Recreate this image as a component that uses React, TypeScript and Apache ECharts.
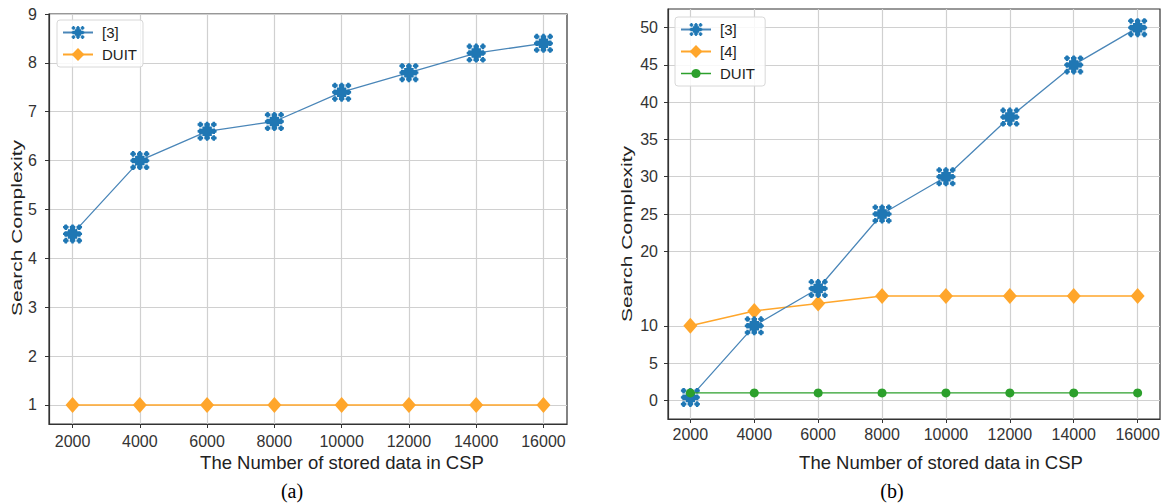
import React, { useEffect, useRef } from "react";
import * as echarts from "echarts";

const xValues = [2000, 4000, 6000, 8000, 10000, 12000, 14000, 16000];
const leftRef3 = [4.5, 6.0, 6.6, 6.8, 7.4, 7.8, 8.2, 8.4];
const leftDUIT = [1, 1, 1, 1, 1, 1, 1, 1];
const rightRef3 = [0.4, 10, 15, 25, 30, 38, 45, 50];
const rightRef4 = [10, 12, 13, 14, 14, 14, 14, 14];
const rightDUIT = [1, 1, 1, 1, 1, 1, 1, 1];
const leftYTicks = [1, 2, 3, 4, 5, 6, 7, 8, 9];
const rightYTicks = [0, 5, 10, 20, 25, 30, 35, 40, 45, 50];
const xTicks = [2000, 4000, 6000, 8000, 10000, 12000, 14000, 16000];

const BLUE = "#1f77b4";
const ORANGE = "#ffa62b";
const GREEN = "#2ca02c";
const FONT = "Liberation Sans";
const X_TITLE = "The Number of stored data in CSP";
const Y_TITLE = "Search Complexity";

function plus(cx: number, cy: number, a: number, t: number) {
  const p = [
    [cx - t, cy - a], [cx + t, cy - a], [cx + t, cy - t], [cx + a, cy - t],
    [cx + a, cy + t], [cx + t, cy + t], [cx + t, cy + a], [cx - t, cy + a],
    [cx - t, cy + t], [cx - a, cy + t], [cx - a, cy - t], [cx - t, cy - t],
  ];
  return "M" + p.map((q) => q[0] + " " + q[1]).join(" L") + " Z ";
}
function sq(cx: number, cy: number, h: number) {
  return `M${cx - h} ${cy - h} L${cx + h} ${cy - h} L${cx + h} ${cy + h} L${cx - h} ${cy + h} Z `;
}
function starSymbol() {
  let d = "";
  const pos = [3.5, 12, 20.5];
  for (const x of pos) for (const y of pos) {
    if (x === 12 && y === 12) continue;
    d += plus(x, y, 3.5, 1.5);
    d += sq(x, y, 2.3);
  }
  d += sq(12, 12, 6);
  d += plus(12, 12, 8.5, 3.2);
  return "path://" + d;
}
const STAR = starSymbol();

function circleLegendIcon() {
  let d = "M0 4.3 L30 4.3 L30 5.7 L0 5.7 Z M";
  const n = 20;
  const pts: string[] = [];
  for (let i = 0; i < n; i++) {
    const a = (i / n) * Math.PI * 2;
    pts.push((15 + 4.6 * Math.cos(a)).toFixed(2) + " " + (5 + 4.6 * Math.sin(a)).toFixed(2));
  }
  d += pts.join(" L") + " Z";
  return "path://" + d;
}

function pairs(ys: number[]) {
  return xValues.map((x, i) => [x, ys[i]]);
}

export default function App() {
  const ref = useRef<HTMLDivElement>(null);
  useEffect(() => {
    if (!ref.current) return;
    const chart = echarts.init(ref.current, undefined, { renderer: "svg" });
    const axisCommon = {
      axisLine: { show: true, onZero: false, lineStyle: { color: "#333", width: 1.2 } },
      axisTick: { show: true, length: 4, lineStyle: { color: "#333" } },
      splitLine: { show: true, lineStyle: { color: "#d0d0d0", width: 1.2 } },
    };
    const labelStyle = { fontFamily: FONT, fontSize: 16, color: "#333" };
    const xAxis = (gi: number, margin: number) => ({
      ...axisCommon,
      type: "value",
      gridIndex: gi,
      min: 1300,
      max: 16700,
      axisTick: { ...axisCommon.axisTick, customValues: xTicks },
      axisLabel: { customValues: xTicks, margin, ...labelStyle, formatter: (v: number) => String(v) },
    });
    const yAxis = (gi: number, min: number, max: number, ticks: number[], margin: number) => ({
      ...axisCommon,
      type: "value",
      gridIndex: gi,
      min,
      max,
      axisTick: { ...axisCommon.axisTick, customValues: ticks },
      axisLabel: { customValues: ticks, margin, ...labelStyle, formatter: (v: number) => String(v) },
    });
    const blueSeries = (xi: number, data: number[]) => ({
      type: "line",
      name: "[3]",
      xAxisIndex: xi,
      yAxisIndex: xi,
      data: pairs(data),
      symbol: STAR,
      symbolSize: 19,
      lineStyle: { color: "#4a86b8", width: 1.3 },
      itemStyle: { color: BLUE },
      z: 3,
    });
    const orangeSeries = (xi: number, name: string, data: number[]) => ({
      type: "line",
      name,
      xAxisIndex: xi,
      yAxisIndex: xi,
      data: pairs(data),
      symbol: "diamond",
      symbolSize: [14, 16],
      lineStyle: { color: ORANGE, width: 1.5 },
      itemStyle: { color: ORANGE },
      z: 2,
    });
    const legendCommon = {
      orient: "vertical",
      backgroundColor: "rgba(255,255,255,0.85)",
      borderColor: "#d8d8d8",
      borderWidth: 1,
      borderRadius: 3,
      padding: [5, 6, 5, 5],
      itemGap: 7,
      itemWidth: 30,
      itemHeight: 16,
      textStyle: { fontFamily: FONT, fontSize: 15, color: "#222", padding: [0, 0, 0, 4] },
    };
    const yTitle = (x: number, y: number) => ({
      type: "text",
      x,
      y,
      rotation: Math.PI / 2,
      scaleX: 1.4,
      style: { text: Y_TITLE, font: `15px '${FONT}'`, fill: "#222", align: "center", verticalAlign: "middle" },
    });
    const xTitle = (x: number, y: number) => ({
      type: "text",
      x,
      y,
      style: { text: X_TITLE, font: `18.5px '${FONT}'`, fill: "#222", align: "center", verticalAlign: "middle" },
    });
    chart.setOption({
      animation: false,
      grid: [
        { left: 49, right: 599, top: 14, bottom: 80, show: true, borderColor: "#333", borderWidth: 1.2, containLabel: false },
        { left: 668, right: 6, top: 9, bottom: 85, show: true, borderColor: "#333", borderWidth: 1.2, containLabel: false },
      ],
      xAxis: [xAxis(0, 9), xAxis(1, 7)],
      yAxis: [
        yAxis(0, 0.61, 9, leftYTicks, 12),
        yAxis(1, -2.5, 52.5, rightYTicks, 10),
      ],
      legend: [
        { ...legendCommon, left: 57, top: 20, data: ["[3]", "DUIT"] },
        { ...legendCommon, left: 675, top: 17, data: ["[3]", "[4]", { name: "DUIT ", icon: circleLegendIcon() }] },
      ],
      series: [
        blueSeries(0, leftRef3),
        orangeSeries(0, "DUIT", leftDUIT),
        blueSeries(1, rightRef3),
        orangeSeries(1, "[4]", rightRef4),
        {
          type: "line",
          name: "DUIT ",
          xAxisIndex: 1,
          yAxisIndex: 1,
          data: pairs(rightDUIT),
          symbol: "circle",
          symbolSize: 9,
          lineStyle: { color: GREEN, width: 1.3 },
          itemStyle: { color: GREEN },
          z: 4,
        },
      ],
      graphic: [
        yTitle(17, 228),
        yTitle(627, 234),
        xTitle(342, 462),
        xTitle(941, 462),
        { type: "text", x: 292, y: 491, style: { text: "(a)", font: "20px 'Liberation Serif'", fill: "#000", align: "center", verticalAlign: "middle" } },
        { type: "text", x: 892, y: 491, style: { text: "(b)", font: "20px 'Liberation Serif'", fill: "#000", align: "center", verticalAlign: "middle" } },
      ],
    });
    return () => chart.dispose();
  }, []);
  return <div ref={ref} style={{ position: "fixed", left: 0, top: 0, width: 1166, height: 504, background: "#fff" }} />;
}
